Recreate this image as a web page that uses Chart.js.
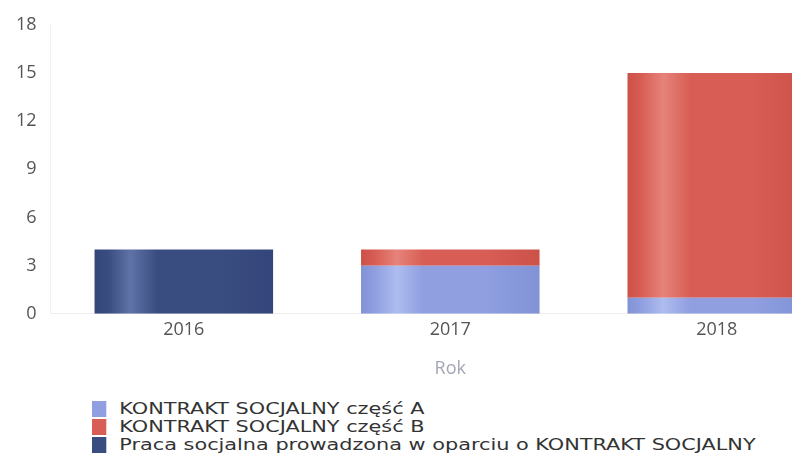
<!DOCTYPE html>
<html>
<head>
<meta charset="utf-8">
<script src="https://cdn.jsdelivr.net/npm/chart.js@4/dist/chart.umd.min.js"></script>
<style>
  html, body { margin: 0; padding: 0; background: #fff; overflow: hidden; }
  body { width: 792px; height: 468px; position: relative; }
  .chart-box { position: absolute; left: 0; top: 0; width: 850px; height: 384px; }
  #legend { position: absolute; left: 92px; top: 400px; font-family: 'DejaVu Sans', sans-serif; font-size: 16px; color: #333;
            transform: scaleX(1.3); transform-origin: 0 0; }
  #legend div { height: 18px; line-height: 18px; white-space: nowrap; }
  #legend span.box { display: inline-block; width: 11px; height: 16px; vertical-align: -3px; margin-right: 10px; }
</style>
</head>
<body>
<div class="chart-box"><canvas id="chart"></canvas></div>
<div id="legend"></div>
<script>
// Data
const years = ['2016', '2017', '2018'];
const partA = [0, 3, 1];
const partB = [0, 1, 14];
const pracaKS = [4, 0, 0];
const yTicks = [0, 3, 6, 9, 12, 15, 18];

const labelA = 'KONTRAKT SOCJALNY część A';
const labelB = 'KONTRAKT SOCJALNY część B';
const labelP = 'Praca socjalna prowadzona w oparciu o KONTRAKT SOCJALNY';

const barFraction = 0.67;

// Cylinder-like shading across each bar
function shaded(base, light, dark) {
    return function(context) {
        const chart = context.chart;
        const xScale = chart.scales.x;
        if (!chart.chartArea || !xScale || context.dataIndex === undefined) return base;
        const cx = xScale.getPixelForValue(context.dataIndex);
        const w = (xScale.width / years.length) * barFraction;
        const g = chart.ctx.createLinearGradient(cx - w / 2, 0, cx + w / 2, 0);
        g.addColorStop(0, dark);
        g.addColorStop(0.08, base);
        g.addColorStop(0.2, light);
        g.addColorStop(0.35, base);
        g.addColorStop(0.7, base);
        g.addColorStop(1, dark);
        return g;
    };
}

const colors = {
    a: ['#8f9fe0', '#aebcef', '#8193d6'],
    b: ['#d85e55', '#e6837a', '#cc5249'],
    p: ['#3a4d80', '#5f73a8', '#33457a']
};

const datasets = [
    { label: labelA, data: partA, backgroundColor: shaded(...colors.a), legendColor: colors.a[0] },
    { label: labelB, data: partB, backgroundColor: shaded(...colors.b), legendColor: colors.b[0] },
    { label: labelP, data: pracaKS, backgroundColor: shaded(...colors.p), legendColor: colors.p[0] }
];

const ctx = document.getElementById('chart').getContext('2d');
const chart = new Chart(ctx, {
    type: 'bar',
    data: {
        labels: years,
        datasets: datasets.map(d => ({
            label: d.label,
            data: d.data,
            backgroundColor: d.backgroundColor,
            borderWidth: 0,
            categoryPercentage: barFraction,
            barPercentage: 1
        }))
    },
    options: {
        responsive: true,
        maintainAspectRatio: false,
        animation: false,
        layout: { padding: { top: 6, left: 2, right: 0, bottom: 0 } },
        plugins: {
            legend: { display: false },
            tooltip: { enabled: false }
        },
        scales: {
            x: {
                stacked: true,
                grid: { display: false, drawTicks: false },
                border: { color: '#eeeeee' },
                ticks: {
                    color: '#555',
                    padding: 5,
                    font: { family: 'Open Sans', size: 18 }
                },
                title: {
                    display: true,
                    text: 'Rok',
                    color: '#a4a6b4',
                    padding: { top: 13 },
                    font: { family: 'Open Sans', size: 18 }
                }
            },
            y: {
                stacked: true,
                min: 0,
                max: 18,
                afterBuildTicks: axis => {
                    axis.ticks = yTicks.map(v => ({ value: v }));
                },
                grid: { display: false, drawTicks: false },
                border: { color: '#f2f2f2' },
                ticks: {
                    color: '#555',
                    padding: 14,
                    font: { family: 'Open Sans', size: 18 }
                }
            }
        }
    }
});

// Vertical legend under the chart
const legend = document.getElementById('legend');
datasets.forEach(d => {
    const row = document.createElement('div');
    const box = document.createElement('span');
    box.className = 'box';
    box.style.background = d.legendColor;
    row.appendChild(box);
    row.appendChild(document.createTextNode(d.label));
    legend.appendChild(row);
});
</script>
</body>
</html>
